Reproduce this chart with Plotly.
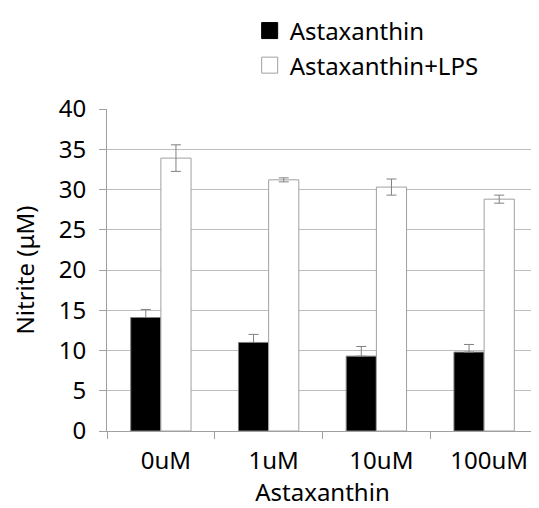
import plotly.graph_objects as go

categories = ["0uM", "1uM", "10uM", "100uM"]
astax = [14.1, 11.0, 9.3, 9.8]
astax_err = [1.0, 1.0, 1.2, 0.95]
astax_lps = [33.9, 31.2, 30.3, 28.8]
astax_lps_err = [1.65, 0.25, 1.0, 0.5]

font = "Noto Sans, Open Sans, sans-serif"
fs = 24
fig = go.Figure()
fig.add_trace(go.Bar(
    x=categories, y=astax, name="Astaxanthin", showlegend=False,
    marker=dict(color="black", line=dict(color="#808080", width=1)),
    error_y=dict(type="data", array=astax_err, arrayminus=[0]*4, symmetric=False,
                 color="#808080", thickness=1, width=5),
))
fig.add_trace(go.Bar(
    x=categories, y=astax_lps, name="Astaxanthin+LPS", showlegend=False,
    marker=dict(color="white", line=dict(color="#a0a0a0", width=1)),
    error_y=dict(type="data", array=astax_lps_err, color="#808080", thickness=1, width=5),
))
# legend entries
fig.add_trace(go.Scatter(x=[None], y=[None], mode="markers", name="Astaxanthin",
                         legend="legend",
                         marker=dict(symbol="square", size=17, color="black",
                                     line=dict(color="black", width=1))))
fig.add_trace(go.Scatter(x=[None], y=[None], mode="markers", name="Astaxanthin+LPS",
                         legend="legend2",
                         marker=dict(symbol="square", size=17, color="white",
                                     line=dict(color="#a0a0a0", width=1))))

# page body has an 8px margin: figure spans 531x500 of the 539x508 window
W, H = 531, 500
top, bottom, left, right = 97, 423, 99, 530
leg_common = dict(xanchor="left", yanchor="middle", font=dict(size=fs),
                  itemsizing="trace", bgcolor="rgba(0,0,0,0)", borderwidth=0)
fig.update_layout(
    width=W, height=H,
    margin=dict(l=left, r=W - right, t=top, b=H - bottom),
    paper_bgcolor="white", plot_bgcolor="white",
    font=dict(family=font, size=fs, color="black"),
    barmode="group", bargap=0.44, bargroupgap=0,
    legend=dict(x=0.331, y=(bottom - 18) / (bottom - top), **leg_common),
    legend2=dict(x=0.331, y=(bottom - 53) / (bottom - top), **leg_common),
)
fig.update_yaxes(range=[0, 40], dtick=5, showgrid=True, gridcolor="#bdbdbd", gridwidth=1,
                 showline=True, linecolor="#a0a0a0", linewidth=1,
                 ticks="outside", ticklen=7, tickcolor="#a0a0a0",
                 ticklabelstandoff=8, automargin=False,
                 title=dict(text="Nitrite (μM)", font=dict(size=fs), standoff=20),
                 zeroline=False)
fig.update_xaxes(showline=True, linecolor="#a0a0a0", linewidth=1,
                 ticks="outside", ticklen=7, tickcolor="#a0a0a0", tickson="boundaries",
                 ticklabelstandoff=8, ticklabelshift=5, automargin=False,
                 title=dict(text="Astaxanthin", font=dict(size=fs), standoff=0))

fig.write_html("out.html")
